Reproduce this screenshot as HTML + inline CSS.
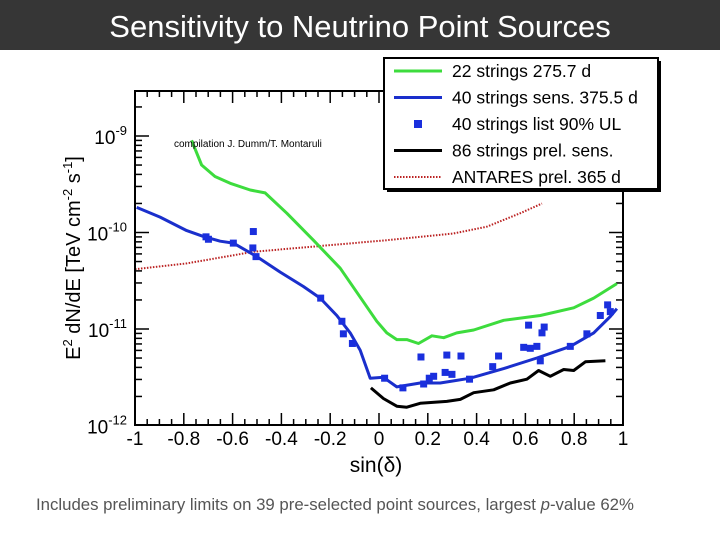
<!DOCTYPE html>
<html><head><meta charset="utf-8"><style>
body{margin:0;width:720px;height:540px;background:#fff;overflow:hidden;font-family:"Liberation Sans",sans-serif}
</style></head><body>
<svg id="c" width="720" height="540" xmlns="http://www.w3.org/2000/svg">
<rect x="0" y="0" width="720" height="50" fill="#363636"/>
<text x="360" y="37" text-anchor="middle" font-size="31" fill="#fff">Sensitivity to Neutrino Point Sources</text>
<g id="plot"></g>
<text x="376" y="472" text-anchor="middle" font-size="21" fill="#000">sin(δ)</text>
<text transform="translate(80,258) rotate(-90)" text-anchor="middle" font-size="20" fill="#000">E<tspan dy="-8" font-size="13">2</tspan><tspan dy="8"> dN/dE [TeV cm</tspan><tspan dy="-8" font-size="13">-2</tspan><tspan dy="8"> s</tspan><tspan dy="-8" font-size="13">-1</tspan><tspan dy="8">]</tspan></text>
<text x="174" y="147" font-size="10" fill="#000">compilation J. Dumm/T. Montaruli</text>
<text x="36" y="510" font-size="16.8" fill="#555">Includes preliminary limits on 39 pre-selected point sources, largest <tspan font-style="italic">p</tspan>-value 62%</text>
</svg>
<script>
const xTicks=[-1,-0.8,-0.6,-0.4,-0.2,0,0.2,0.4,0.6,0.8,1];
const xTickLabels=["-1","-0.8","-0.6","-0.4","-0.2","0","0.2","0.4","0.6","0.8","1"];
const yDecades=[-12,-11,-10,-9];
const greenX=[-0.768,-0.727,-0.672,-0.610,-0.528,-0.467,-0.378,-0.269,-0.159,-0.077,-0.009,0.032,0.073,0.114,0.162,0.217,0.265,0.319,0.388,0.511,0.661,0.798,0.880,0.975];
const greenY=[-9.045,-9.30,-9.42,-9.49,-9.56,-9.59,-9.80,-10.08,-10.37,-10.67,-10.92,-11.04,-11.11,-11.11,-11.15,-11.07,-11.09,-11.04,-11.01,-10.91,-10.86,-10.78,-10.68,-10.53];
const blueX=[-0.993,-0.897,-0.788,-0.720,-0.651,-0.597,-0.501,-0.405,-0.310,-0.241,-0.173,-0.118,-0.077,-0.036,0.018,0.073,0.169,0.251,0.374,0.511,0.647,0.784,0.880,0.948,0.975];
const blueY=[-9.74,-9.84,-9.98,-10.04,-10.09,-10.11,-10.25,-10.41,-10.56,-10.68,-10.86,-11.04,-11.22,-11.51,-11.50,-11.60,-11.56,-11.56,-11.51,-11.41,-11.30,-11.18,-11.04,-10.87,-10.79];
const blackX=[-0.033,0.018,0.073,0.114,0.169,0.278,0.333,0.388,0.470,0.538,0.606,0.654,0.702,0.757,0.798,0.846,0.928];
const blackY=[-11.61,-11.72,-11.80,-11.81,-11.77,-11.75,-11.73,-11.66,-11.63,-11.56,-11.52,-11.43,-11.49,-11.42,-11.43,-11.34,-11.33];
const antX=[-1,-0.788,-0.515,-0.241,0.032,0.305,0.442,0.579,0.668];
const antY=[-10.38,-10.32,-10.20,-10.14,-10.08,-10.01,-9.94,-9.80,-9.70];
const ulX=[-0.709,-0.699,-0.597,-0.515,-0.517,-0.504,-0.239,-0.152,-0.146,-0.109,0.023,0.098,0.172,0.183,0.206,0.224,0.278,0.271,0.299,0.336,0.371,0.466,0.490,0.593,0.613,0.620,0.647,0.661,0.668,0.677,0.784,0.852,0.907,0.937,0.948];
const ulY=[-10.045,-10.07,-10.11,-9.99,-10.16,-10.25,-10.68,-10.92,-11.05,-11.15,-11.51,-11.61,-11.29,-11.57,-11.51,-11.49,-11.27,-11.45,-11.47,-11.28,-11.52,-11.39,-11.28,-11.19,-10.96,-11.20,-11.18,-11.33,-11.04,-10.98,-11.18,-11.05,-10.86,-10.75,-10.82];
const legendLabels=["22 strings 275.7 d","40 strings sens. 375.5 d","40 strings list 90% UL","86 strings prel. sens.","ANTARES prel. 365 d"];

const NS="http://www.w3.org/2000/svg";
const L=135,R=623,T=91,B=425;
const sx=v=>L+(v+1)/2*(R-L);
const sy=lg=>136+(-9-lg)*96.5;
const g=document.getElementById('plot');
function mk(tag,attrs,parent){const e=document.createElementNS(NS,tag);for(const k in attrs)e.setAttribute(k,attrs[k]);(parent||g).appendChild(e);return e;}
function clipPts(xs,ys){return xs.map((x,i)=>sx(x).toFixed(1)+","+sy(ys[i]).toFixed(1)).join(" ");}

for(let i=0;i<=40;i++){const v=-1+i*0.05;const x=sx(v);const maj=Math.abs(v*5-Math.round(v*5))<1e-6;const len=maj?12:6;
 const t1=mk('line',{x1:x,y1:B,x2:x,y2:B-len,stroke:'#000','stroke-width':1.5});
 
 
 const t2=mk('line',{x1:x,y1:T,x2:x,y2:T+len,stroke:'#000','stroke-width':1.5});
 
 }
for(let d=-12;d<-8;d++){for(let m=1;m<10;m++){const lg=d+Math.log10(m);const y=sy(lg);if(y<T||y>B)continue;const len=m==1?14:7;
 const a=mk('line',{x1:L,y1:y,x2:L+len,y2:y,stroke:'#000','stroke-width':1.5});
 
 
 const b=mk('line',{x1:R,y1:y,x2:R-len,y2:y,stroke:'#000','stroke-width':1.5});
 
 }}
xTicks.forEach((v,i)=>{const t=mk('text',{x:sx(v),y:445,'text-anchor':'middle','font-size':19});t.textContent=xTickLabels[i];
 
 });
yDecades.forEach(d=>{const t=mk('text',{x:127,y:sy(d)+8,'text-anchor':'end','font-size':19});t.innerHTML='10<tspan dy="-9" font-size="13">'+d+'</tspan>';
 
 });

const ant=mk('polyline',{points:clipPts(antX,antY),fill:'none',stroke:'#b22',"stroke-width":2,"stroke-dasharray":"1.5,1.5"});


const gr=mk('polyline',{points:clipPts(greenX,greenY),fill:'none',stroke:'#3ddc3d',"stroke-width":3,"stroke-linejoin":"round"});


const bl=mk('polyline',{points:clipPts(blueX,blueY),fill:'none',stroke:'#1a2fcc',"stroke-width":3,"stroke-linejoin":"round"});


const bk=mk('polyline',{points:clipPts(blackX,blackY),fill:'none',stroke:'#000',"stroke-width":3,"stroke-linejoin":"round"});


ulX.forEach((x,i)=>{const r=mk('rect',{x:sx(x)-3.5,y:sy(ulY[i])-3.5,width:7,height:7,fill:'#1a2fdd'});
 
 });
const fr=mk('rect',{x:L,y:T,width:R-L,height:B-T,fill:'none',stroke:'#000','stroke-width':2});



const lg=mk('g',{});


mk('rect',{x:387,y:61,width:274,height:131,fill:'#000'},lg);
mk('rect',{x:384,y:58,width:274,height:131,fill:'#fff',stroke:'#000','stroke-width':2},lg);
const sty=[{s:'#3ddc3d',w:3},{s:'#1a2fcc',w:3},null,{s:'#000',w:3},{s:'#b22',w:2,d:'1.5,1.5'}];
legendLabels.forEach((lab,i)=>{const y=71+i*26.5;
 const e=mk('g',{},lg);
 
 
 if(sty[i]){const o={x1:394,y1:y,x2:442,y2:y,stroke:sty[i].s,'stroke-width':sty[i].w};if(sty[i].d)o['stroke-dasharray']=sty[i].d;mk('line',o,e);}
 else mk('rect',{x:414,y:y-4,width:8,height:8,fill:'#1a2fdd'},e);
 const t=mk('text',{x:452,y:y+6,'font-size':17.5},e);t.textContent=lab;});
</script>
</body></html>
